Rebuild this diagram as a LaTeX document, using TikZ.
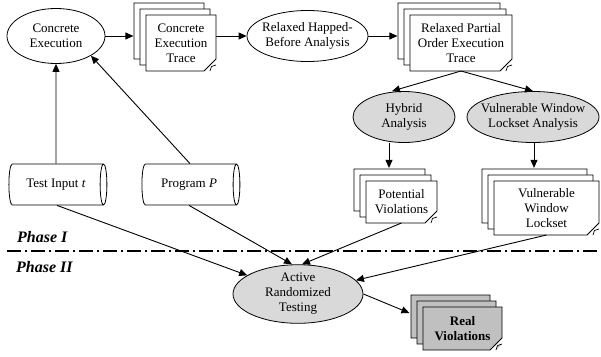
\documentclass[tikz,border=0pt]{standalone}
\usepackage{fontspec}
\setmainfont{Liberation Serif}
\usetikzlibrary{arrows.meta,positioning,shapes.geometric,shapes.misc,shadows}

\definecolor{procgray}{RGB}{217,217,217}
\definecolor{realgray}{RGB}{192,192,192}

% folded corner of a document sheet
\newcommand{\fold}[2][white]{%
  \coordinate (#2k) at (#2.south -| #2.east);
  \draw[fill=#1, line width=0.7pt, line join=round] ([xshift=-6pt]#2k) -- ([xshift=-4.5pt,yshift=4.5pt]#2k) -- ([yshift=6pt]#2k);}

\begin{document}
\begin{tikzpicture}[
  x=1pt, y=-1pt,
  font=\fontsize{13}{15}\selectfont,
  >={Triangle[length=8pt,width=7pt]},
  proc/.style={ellipse, draw, line width=0.8pt, align=center, inner sep=0pt},
  analysis/.style={proc, fill=procgray},
  store/.style={cylinder, shape aspect=0.6, draw, line width=0.8pt, minimum width=41pt, minimum height=98pt, inner sep=0pt, align=center},
  docsheet/.style={chamfered rectangle, chamfered rectangle corners=south east,
    chamfered rectangle xsep=6pt, chamfered rectangle ysep=6pt,
    draw, fill=#1, line width=0.8pt, align=center, inner sep=0pt, outer sep=0pt,
    copy shadow={shadow xshift=-12pt, shadow yshift=12pt, fill=#1},
    copy shadow={shadow xshift=-6pt, shadow yshift=6pt, fill=#1}},
  docsheet/.default=white,
  arr/.style={->, line width=0.9pt},
  phase/.style={font=\fontsize{16}{18}\selectfont\bfseries\itshape, anchor=base west, inner sep=0pt},
  phaseline/.style={line width=1.8pt, dash pattern=on 14pt off 4pt on 2pt off 4pt},
]
\useasboundingbox (0,0) rectangle (601,356);

% Phase I
\node[proc, minimum width=98pt, minimum height=55pt] (ce) at (56,36) {Concrete\\Execution};
\node[docsheet, minimum width=70pt, minimum height=56pt] (cet) at (181,43) {Concrete\\Execution\\Trace};
\fold{cet}
\node[proc, inner xsep=-3pt, minimum width=121pt, minimum height=51pt] (rhb) at (307.5,36) {Relaxed Happed-\\Before Analysis};
\node[docsheet, minimum width=102pt, minimum height=56pt] (rpo) at (461,43) {Relaxed Partial\\Order Execution\\Trace};
\fold{rpo}
\node[analysis, minimum width=102pt, minimum height=51pt] (hyb) at (404,117) {Hybrid\\Analysis};
\node[analysis, inner xsep=-7pt, minimum width=132pt, minimum height=51pt] (vwa) at (533,117) {Vulnerable Window\\Lockset Analysis};
\node[docsheet, minimum width=71pt, minimum height=42pt] (pv) at (401.5,202) {Potential\\Violations};
\fold{pv}
\node[docsheet, minimum width=105pt, minimum height=54pt] (vwl) at (546.5,208) {Vulnerable\\Window\\Lockset};
\fold{vwl}
\node[store] (ti) at (56,184.5) {Test Input \textit{t}};
\node[store] (prog) at (189,184.5) {Program \textit{P}};

% separator
\node[phase] (ph1) at (17,242) {Phase I};
\node[phase] (ph2) at (16,272) {Phase II};
\coordinate (sepL) at (7,251);
\coordinate (sepR) at (601,251);
\draw[phaseline] (sepL) -- (sepR);

% Phase II
\node[analysis, minimum width=130pt, minimum height=54pt] (art) at (298,294) {Active\\Randomized\\Testing};
\node[docsheet=realgray, minimum width=79pt, minimum height=43pt, font=\fontsize{13}{15}\selectfont\bfseries] (rv) at (462.5,328.5) {Real\\Violations};
\fold[realgray]{rv}

\draw[arr] (ce.east) -- ++(28,0);
\draw[arr] (cet.east |- rhb.west) -- (rhb.west);
\draw[arr] (rhb.east) -- ++(29,0);
\draw[arr] (rpo.south) -- ([xshift=-12pt]hyb.north);
\draw[arr] (rpo.south) -- (vwa.north);
\draw[arr] ([xshift=-15pt]hyb.south) -- ++(0,25);
\draw[arr] ([xshift=1pt]vwa.south) -- ++(0,25);
\draw[arr] (ti.north) -- (ce.south);
\draw[arr] ([xshift=1pt]prog.north) -- (ce.south east);
\draw[arr] ([xshift=1pt]ti.south) -- (art);
\draw[arr] (prog.south) -- ([xshift=-6pt]art.north);
\draw[arr] (pv.south) -- ([xshift=4pt]art.north);
\draw[arr] (vwl.south) -- (art);
\draw[arr] (art.east) -- ++(46,19);
\end{tikzpicture}
\end{document}
